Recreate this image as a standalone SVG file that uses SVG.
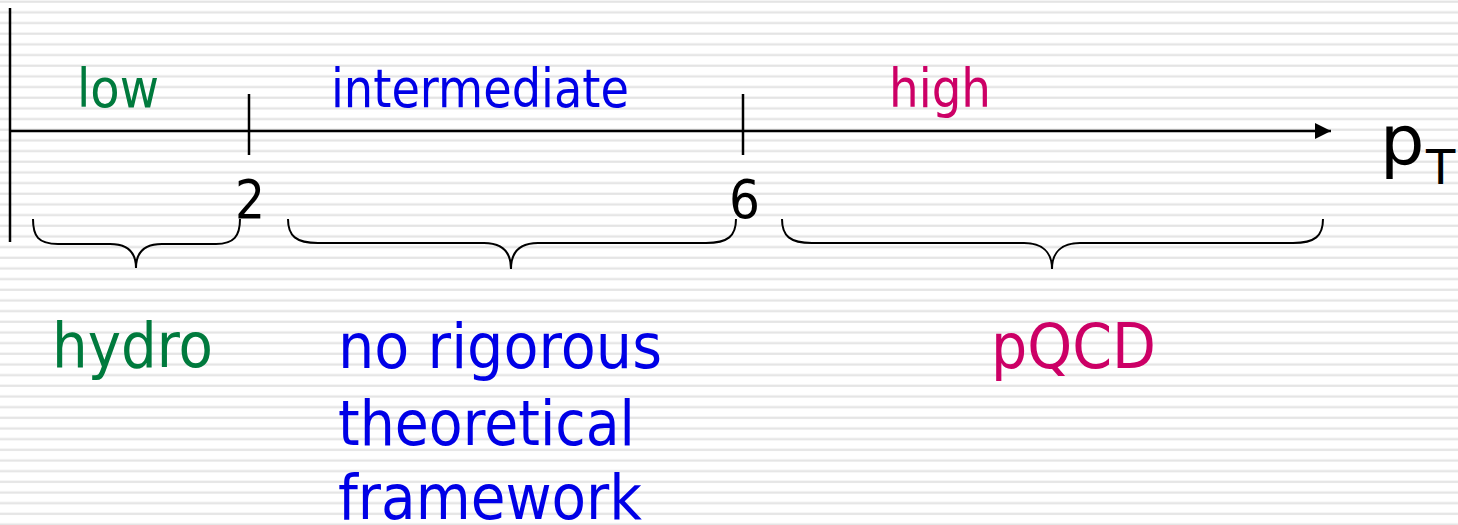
<svg xmlns="http://www.w3.org/2000/svg" width="1458" height="525" viewBox="0 0 1458 525">
<style>
.t{font-family:"DejaVu Sans","Liberation Sans",sans-serif}
.g{fill:#007A3D}
.b{fill:#0000E6}
.m{fill:#CC0066}
.k{fill:#000}
.ln{stroke:#000;stroke-width:2.5;fill:none}
.br{stroke:#000;stroke-width:2;fill:none}
</style>
<defs>
<pattern id="stripes" patternUnits="userSpaceOnUse" width="20" height="10.67" y="0">
<rect width="20" height="10.67" fill="#fff"/>
<rect y="0.6" width="20" height="2.2" fill="#e4e4e4"/>
</pattern>
<marker id="arr" markerWidth="17" markerHeight="16" refX="16" refY="8" orient="auto" markerUnits="userSpaceOnUse">
<path d="M0,0 L16,8 L0,16 Z" fill="#000"/>
</marker>
</defs>
<rect width="1458" height="525" fill="url(#stripes)"/>
<g id="axes">
<line class="ln" x1="10" y1="8" x2="10" y2="242"/>
<line class="ln" x1="10" y1="131" x2="1331" y2="131" marker-end="url(#arr)"/>
<line class="ln" x1="249" y1="94" x2="249" y2="155"/>
<line class="ln" x1="743" y1="94" x2="743" y2="155"/>
</g>
<g id="connectors">
<path class="br" d="M33,219 C33,236 38,244 58,244 L110,244 C128,244 136,252 136,268 C136,252 144,244 162,244 L216,244 C234,244 240,236 240,219"/>
<path class="br" d="M288,219 C288,236 296,243 318,243 L484,243 C502,243 511,252 511,269 C511,252 520,243 538,243 L706,243 C728,243 736,236 736,219"/>
<path class="br" d="M782,219 C782,236 790,243 812,243 L1024,243 C1042,243 1052,252 1052,269 C1052,252 1062,243 1080,243 L1293,243 C1315,243 1323,236 1323,219"/>
</g>
<g id="label-low"><text class="t g" x="77" y="107" font-size="53" textLength="82" lengthAdjust="spacingAndGlyphs">low</text></g>
<g id="label-intermediate"><text class="t b" x="331" y="107" font-size="53" textLength="298" lengthAdjust="spacingAndGlyphs">intermediate</text></g>
<g id="label-high"><text class="t m" x="889" y="107" font-size="53" textLength="102" lengthAdjust="spacingAndGlyphs">high</text></g>
<g id="tick-2"><text class="t k" x="235" y="218" font-size="53" textLength="30" lengthAdjust="spacingAndGlyphs">2</text></g>
<g id="tick-6"><text class="t k" x="729" y="218" font-size="53" textLength="31" lengthAdjust="spacingAndGlyphs">6</text></g>
<g id="axis-label"><text class="t k" x="1380" y="165" font-size="70">p<tspan x="1426" y="184" font-size="48">T</tspan></text></g>
<g id="hydro"><text class="t g" x="52" y="367" font-size="63" textLength="161" lengthAdjust="spacingAndGlyphs">hydro</text></g>
<g id="no-framework">
<text class="t b" x="338" y="368" font-size="63" textLength="324" lengthAdjust="spacingAndGlyphs">no rigorous</text>
<text class="t b" x="338" y="445" font-size="63" textLength="297" lengthAdjust="spacingAndGlyphs">theoretical</text>
<text class="t b" x="338" y="519" font-size="63" textLength="304" lengthAdjust="spacingAndGlyphs">framework</text>
</g>
<g id="pqcd"><text class="t m" x="991" y="368" font-size="63" textLength="165" lengthAdjust="spacingAndGlyphs">pQCD</text></g>
</svg>
